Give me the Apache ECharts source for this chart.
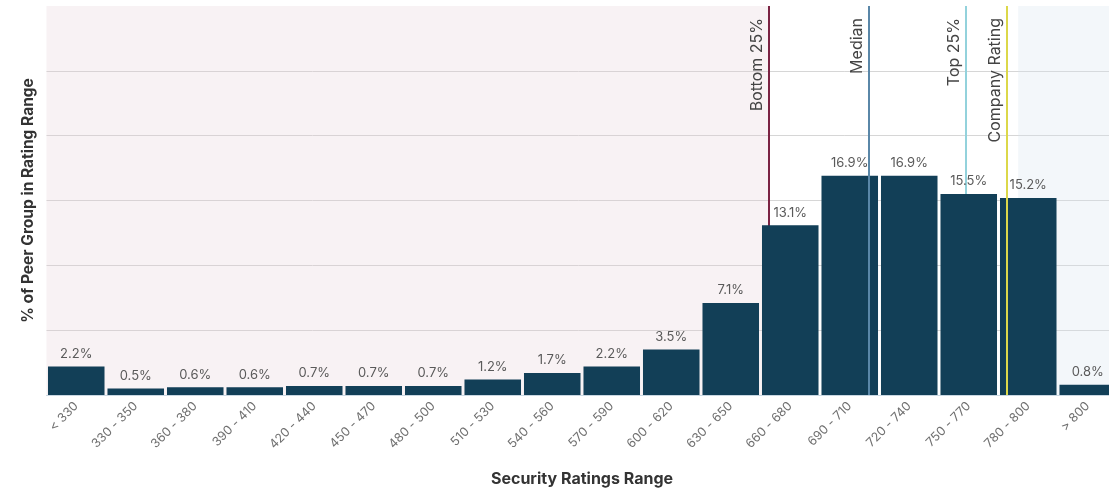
<!DOCTYPE html>
<html>
<head>
<meta charset="utf-8">
<script src="https://cdn.jsdelivr.net/npm/echarts@6/dist/echarts.min.js"></script>
<style>html,body{margin:0;padding:0;background:#fff}#c{width:1109px;height:489px}</style>
</head>
<body>
<div id="c"></div>
<script>
const categories = ['< 330','330 - 350','360 - 380','390 - 410','420 - 440','450 - 470','480 - 500','510 - 530','540 - 560','570 - 590','600 - 620','630 - 650','660 - 680','690 - 710','720 - 740','750 - 770','780 - 800','> 800'];
const peerShare = [2.2,0.5,0.6,0.6,0.7,0.7,0.7,1.2,1.7,2.2,3.5,7.1,13.1,16.9,16.9,15.5,15.2,0.8];
// marker positions in category-slot units (slot i spans [i, i+1])
const markerNames = ['Bottom 25%','Median','Top 25%','Company Rating'];
const markerPos = [12.14, 13.82, 15.45, 16.14];
const markerColors = ['#7b2343','#5a87a8','#93d2dc','#dcd84a'];
const markerOnTop = [false, true, false, true];
const bandStops = [0, 12.14, 16.33, 18];
const bandColors = ['rgba(226,205,212,0.25)', 'rgba(255,255,255,0)', 'rgba(214,228,240,0.3)'];
const yTicks = {min:0, max:30, interval:5};

const chart = echarts.init(document.getElementById('c'), null, {renderer:'canvas'});

function markerSeries(onTop){
  const data = [];
  markerNames.forEach((n,i)=>{
    if (markerOnTop[i] !== onTop) return;
    data.push({
      xAxis: markerPos[i], name: n,
      lineStyle:{color: markerColors[i], width: 2, type:'solid'},
      label:{show:true, formatter: n, position:'insideEndTop', color:'#444', fontSize:16, fontFamily:'Inter, Noto Sans, sans-serif', distance:[12,4]}
    });
  });
  return {
    type:'line', xAxisIndex:1, yAxisIndex:0, data:[], z: onTop ? 5 : 1,
    silent:true,
    markLine:{symbol:['none','none'], animation:false, data: data, z: onTop ? 5 : 1}
  };
}

const bandData = [];
for (let i=0;i<bandColors.length;i++){
  bandData.push([{xAxis: bandStops[i], itemStyle:{color: bandColors[i]}}, {xAxis: bandStops[i+1]}]);
}

chart.setOption({
  animation:false,
  grid:{left:46.5, width:1071, top:6, bottom:94, containLabel:false, outerBoundsMode:'none'},
  xAxis:[{
    type:'category', data: categories,
    axisLine:{show:true, lineStyle:{color:'#c9d7e2', width:1}},
    axisTick:{show:false},
    axisLabel:{rotate:45, color:'#707070', fontSize:12.5, margin:9, fontFamily:'Inter, Noto Sans, sans-serif'},
    name:'Security Ratings Range', nameLocation:'middle', nameGap:76,
    nameTextStyle:{fontWeight:'bold', fontSize:16, color:'#333', fontFamily:'Inter, Noto Sans, sans-serif'}
  },{
    type:'value', min:0, max:18, show:false
  }],
  yAxis:{
    type:'value', min:yTicks.min, max:yTicks.max, interval:yTicks.interval,
    axisLabel:{show:false}, axisLine:{show:false}, axisTick:{show:false},
    splitLine:{show:true, showMaxLine:false, lineStyle:{color:'#d6d6d6', width:1}},
    name:'% of Peer Group in Rating Range', nameLocation:'middle', nameGap:10.5,
    nameTextStyle:{fontWeight:'bold', fontSize:15.5, color:'#333', fontFamily:'Inter, Noto Sans, sans-serif'}
  },
  series:[
    {type:'line', xAxisIndex:1, yAxisIndex:0, data:[], z:0, silent:true,
     markArea:{silent:true, data: bandData}},
    markerSeries(false),
    {
      type:'bar', data: peerShare, barCategoryGap:'5%', z:3,
      itemStyle:{color:'#123f57'},
      label:{show:true, position:'top', distance:6, formatter: p => p.value.toFixed(1) + '%', color:'#5a5a5a', fontSize:13, fontFamily:'Inter, Noto Sans, sans-serif'}
    },
    markerSeries(true)
  ]
});
</script>
</body>
</html>
